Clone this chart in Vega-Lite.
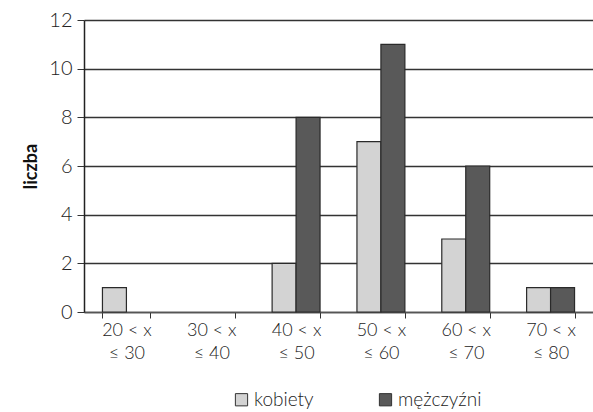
{
  "$schema": "https://vega.github.io/schema/vega-lite/v6.json",
  "autosize": {"type": "none"},
  "width": 509,
  "height": 292,
  "padding": {"left": 84, "top": 20, "right": 0, "bottom": 100},
  "background": "white",
  "config": {
    "font": "Lato",
    "view": {"stroke": null}
  },
  "data": {
    "values": [
      {"przedzial": "20 < x|≤ 30", "plec": "kobiety", "liczba": 1},
      {"przedzial": "20 < x|≤ 30", "plec": "mężczyźni", "liczba": 0},
      {"przedzial": "30 < x|≤ 40", "plec": "kobiety", "liczba": 0},
      {"przedzial": "30 < x|≤ 40", "plec": "mężczyźni", "liczba": 0},
      {"przedzial": "40 < x|≤ 50", "plec": "kobiety", "liczba": 2},
      {"przedzial": "40 < x|≤ 50", "plec": "mężczyźni", "liczba": 8},
      {"przedzial": "50 < x|≤ 60", "plec": "kobiety", "liczba": 7},
      {"przedzial": "50 < x|≤ 60", "plec": "mężczyźni", "liczba": 11},
      {"przedzial": "60 < x|≤ 70", "plec": "kobiety", "liczba": 3},
      {"przedzial": "60 < x|≤ 70", "plec": "mężczyźni", "liczba": 6},
      {"przedzial": "70 < x|≤ 80", "plec": "kobiety", "liczba": 1},
      {"przedzial": "70 < x|≤ 80", "plec": "mężczyźni", "liczba": 1}
    ]
  },
  "mark": {"type": "bar", "stroke": "#2a2a2a", "strokeWidth": 1.2},
  "encoding": {
    "x": {
      "field": "przedzial",
      "type": "nominal",
      "sort": null,
      "scale": {"paddingInner": 0.435, "paddingOuter": 0.2175},
      "axis": {
        "title": null,
        "labelAngle": 0,
        "labelExpr": "split(datum.label, '|')",
        "labelFontSize": 18,
        "labelFontWeight": 300,
        "labelColor": "#222",
        "labelLineHeight": 23,
        "labelPadding": 3,
        "labelBaseline": "top",
        "tickBand": "extent",
        "tickSize": 6,
        "tickColor": "#333",
        "domainColor": "#555",
        "domainWidth": 1.5,
        "grid": false
      }
    },
    "xOffset": {"field": "plec", "type": "nominal", "sort": ["kobiety", "mężczyźni"]},
    "y": {
      "field": "liczba",
      "type": "quantitative",
      "scale": {"domain": [0, 12]},
      "axis": {
        "title": "liczba",
        "titleFont": "Lato",
        "titleFontSize": 18,
        "titleFontWeight": "bold",
        "titleColor": "#111",
        "titlePadding": 8,
        "values": [0, 2, 4, 6, 8, 10, 12],
        "labelFontSize": 20,
        "labelFontWeight": 300,
        "labelColor": "#222",
        "labelPadding": 5,
        "tickSize": 7,
        "tickColor": "#333",
        "domainColor": "#222",
        "domainWidth": 1.5,
        "grid": true,
        "gridColor": "#333",
        "gridWidth": 1.3
      }
    },
    "strokeOpacity": {
      "condition": {"test": "datum.liczba === 0", "value": 0},
      "value": 1
    },
    "color": {
      "field": "plec",
      "type": "nominal",
      "sort": ["kobiety", "mężczyźni"],
      "scale": {"domain": ["kobiety", "mężczyźni"], "range": ["#d3d3d3", "#595959"]},
      "legend": {
        "title": null,
        "orient": "none",
        "direction": "horizontal",
        "legendX": 148,
        "legendY": 370,
        "symbolType": "square",
        "symbolSize": 150,
        "symbolStrokeColor": "#333",
        "symbolStrokeWidth": 1,
        "labelFontSize": 19,
        "labelFontWeight": 300,
        "labelColor": "#222",
        "labelOffset": 3,
        "columnPadding": 62
      }
    }
  }
}
